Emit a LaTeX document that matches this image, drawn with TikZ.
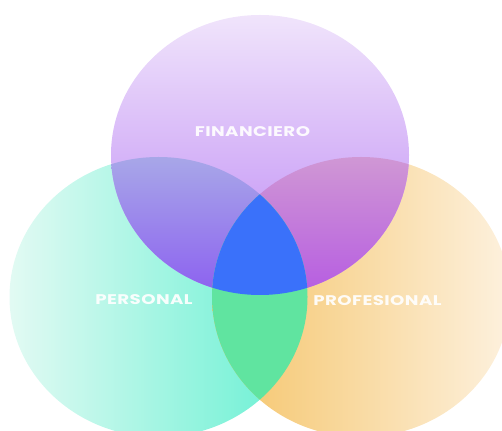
\documentclass[tikz,border=0pt]{standalone}
\usepackage{fontspec}
\newfontfamily\vennfont{Poppins}[FakeStretch=1.3, LetterSpace=3]
\definecolor{lavTop}{RGB}{240,228,251}
\definecolor{lavBot}{RGB}{188,134,245}
\definecolor{mintL}{RGB}{226,250,243}
\definecolor{mintR}{RGB}{100,240,210}
\definecolor{sunL}{RGB}{245,196,104}
\definecolor{sunR}{RGB}{253,241,222}
\definecolor{tlTop}{RGB}{168,168,232}
\definecolor{tlBot}{RGB}{140,96,240}
\definecolor{trTop}{RGB}{208,152,212}
\definecolor{trBot}{RGB}{182,92,226}
\definecolor{lensGreen}{RGB}{96,228,160}
\definecolor{coreBlue}{RGB}{58,113,250}
\tikzset{
  venn/.style={x radius=149, y radius=140},
  vennlabel/.style={inner sep=0pt, text=white, opacity=0.92,
    font=\vennfont\bfseries\fontsize{14}{16}\selectfont}
}
\begin{document}
\begin{tikzpicture}[x=1pt,y=1pt]
  \useasboundingbox (0,0) rectangle (502,430);
  \coordinate (cT) at (260,275);
  \coordinate (cL) at (158.5,133);
  \coordinate (cR) at (361,133);

  % the three sets
  \shade[left color=mintL, right color=mintR] (cL) ellipse [venn];
  \shade[left color=sunL, right color=sunR] (cR) ellipse [venn];
  \shade[top color=lavTop, bottom color=lavBot] (cT) ellipse [venn];

  % financial & personal
  \begin{scope}
    \clip (cT) ellipse [venn];
    \clip (cL) ellipse [venn];
    \shade[top color=tlTop, bottom color=tlBot] (0,135) rectangle (502,275);
  \end{scope}
  % financial & professional
  \begin{scope}
    \clip (cT) ellipse [venn];
    \clip (cR) ellipse [venn];
    \shade[top color=trTop, bottom color=trBot] (0,135) rectangle (502,275);
  \end{scope}
  % personal & professional
  \begin{scope}
    \clip (cL) ellipse [venn];
    \fill[lensGreen] (cR) ellipse [venn];
  \end{scope}
  % all three
  \begin{scope}
    \clip (cL) ellipse [venn];
    \clip (cR) ellipse [venn];
    \fill[coreBlue] (cT) ellipse [venn];
  \end{scope}

  \node[vennlabel] (fin) at (252.5,298) {FINANCIERO};
  \node[vennlabel] (per) at (144,130.5) {PERSONAL};
  \node[vennlabel] (pro) at (377.5,129.5) {PROFESIONAL};
\end{tikzpicture}
\end{document}
